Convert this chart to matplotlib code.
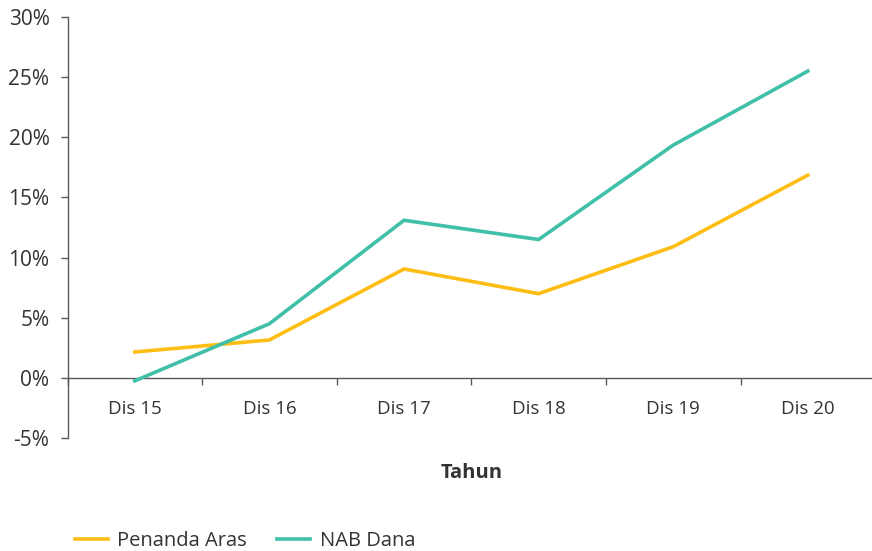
import matplotlib
matplotlib.use("Agg")
import matplotlib.pyplot as plt
from matplotlib.ticker import FixedLocator, FuncFormatter
from matplotlib.lines import Line2D

categories = ["Dis 15", "Dis 16", "Dis 17", "Dis 18", "Dis 19", "Dis 20"]
penanda_aras = [2.15, 3.15, 9.05, 7.0, 10.9, 16.85]
nab_dana = [-0.25, 4.5, 13.1, 11.5, 19.35, 25.5]
yticks = [-5, 0, 5, 10, 15, 20, 25, 30]

YELLOW = "#FDBD13"
TEAL = "#40C0A8"
TXT = "#333333"
AX = "#595959"

plt.rcParams['font.family'] = ['Open Sans', 'DejaVu Sans']

fig = plt.figure(figsize=(8.72, 5.51), dpi=100)
W, H = 872, 551
ax = fig.add_axes([67.5 / W, (H - 438) / H, (871 - 67.5) / W, (438 - 17) / H])

x = list(range(len(categories)))
ax.plot(x, penanda_aras, color=YELLOW, lw=2.6, solid_joinstyle='miter', zorder=3)
ax.plot(x, nab_dana, color=TEAL, lw=2.6, solid_joinstyle='miter', zorder=3)

ax.set_xlim(-0.5, -0.5 + (871 - 67.5) / 134.6)
ax.set_ylim(-5, 30)

for s in ['top', 'right']:
    ax.spines[s].set_visible(False)
ax.spines['left'].set_color(AX)
ax.spines['bottom'].set_color(AX)
ax.spines['bottom'].set_position(('data', 0))
ax.spines['left'].set_linewidth(1.0)
ax.spines['bottom'].set_linewidth(1.0)

ax.yaxis.set_major_locator(FixedLocator(yticks))
ax.yaxis.set_major_formatter(FuncFormatter(lambda v, p: f"{int(v)}%"))
ax.tick_params(axis='y', direction='out', length=5, width=1, color=AX,
               labelsize=15, labelcolor=TXT, pad=8)

ax.set_xticks(x)
ax.set_xticklabels(categories)
ax.tick_params(axis='x', which='major', length=0, labelsize=13.5, labelcolor=TXT, pad=16)
ax.xaxis.set_minor_locator(FixedLocator([i + 0.5 for i in range(-1, len(categories))]))
ax.tick_params(axis='x', which='minor', direction='out', length=5, width=1, color=AX)

fig.text((67.5 + 875) / 2 / W, 1 - 473 / H, "Tahun", ha='center', va='center',
         fontsize=14.5, fontweight='bold', color=TXT)

handles = [Line2D([], [], color=YELLOW, lw=2.6), Line2D([], [], color=TEAL, lw=2.6)]
fig.legend(handles, ["Penanda Aras", "NAB Dana"], loc='center left',
           bbox_to_anchor=(75 / W, 1 - 541 / H), ncol=2, frameon=False,
           fontsize=14.5, labelcolor=TXT, handlelength=1.65, handletextpad=0.45,
           columnspacing=1.5, borderpad=0, borderaxespad=0)

fig.savefig("out.png", dpi=100)
